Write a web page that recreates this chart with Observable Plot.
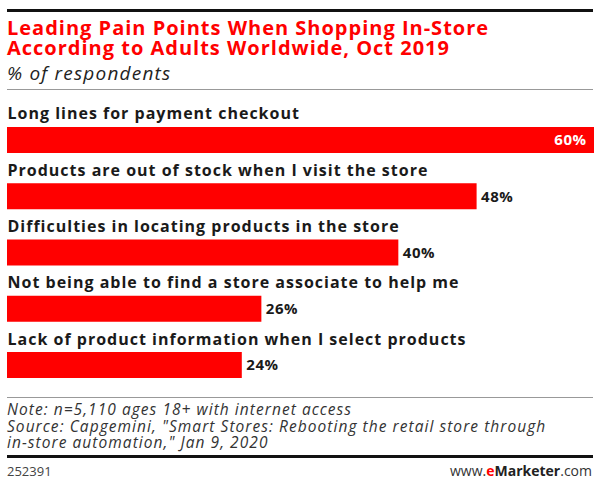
<!DOCTYPE html>
<html>
<head>
<meta charset="utf-8">
<script src="https://cdn.jsdelivr.net/npm/d3@7"></script>
<script src="https://cdn.jsdelivr.net/npm/@observablehq/plot@0.6"></script>
<style>
  html, body { margin: 0; padding: 0; background: #fff; }
  #wrap { position: relative; width: 600px; height: 484px; font-family: "Open Sans", sans-serif; overflow: hidden; }
  .abs { position: absolute; }
  #topline { left: 7px; top: 9px; width: 586px; height: 3px; background: #111; }
  #title { left: 7px; top: 18px; font-size: 20px; line-height: 20px; font-weight: 700; color: #f00; letter-spacing: 1px; white-space: nowrap; }
  #subtitle { left: 7px; top: 63px; font-size: 19px; line-height: 20px; font-style: italic; color: #222; letter-spacing: 1.2px; white-space: nowrap; }
  #gray1 { left: 7px; top: 89px; width: 586px; height: 1px; background: #999; }
  #chart { left: 0; top: 92px; }
  #chart g.lbl text { letter-spacing: 1px; }
  #chart g.val text { letter-spacing: 0.5px; }
  #gray2 { left: 7px; top: 397px; width: 586px; height: 1px; background: #999; }
  #notes { left: 7px; top: 401px; font-size: 15.5px; line-height: 16.5px; font-style: italic; color: #333; letter-spacing: 1.05px; white-space: nowrap; }
  #botline { left: 7px; top: 455px; width: 586px; height: 3px; background: #111; }
  #id { left: 7px; top: 462px; font-size: 13px; line-height: 18px; color: #444; }
  #brand { right: 8px; top: 462px; font-size: 14px; line-height: 18px; color: #333; }
  #brand b { color: #222; }
  #brand .e { color: #f00; }
</style>
</head>
<body>
<div id="wrap">
  <div id="topline" class="abs"></div>
  <div id="title" class="abs">Leading Pain Points When Shopping In-Store<br>According to Adults Worldwide, Oct 2019</div>
  <div id="subtitle" class="abs">% of respondents</div>
  <div id="gray1" class="abs"></div>
  <div id="chart" class="abs"></div>
  <div id="gray2" class="abs"></div>
  <div id="notes" class="abs">Note: n=5,110 ages 18+ with internet access<br>Source: Capgemini, "Smart Stores: Rebooting the retail store through<br>in-store automation," Jan 9, 2020</div>
  <div id="botline" class="abs"></div>
  <div id="id" class="abs">252391</div>
  <div id="brand" class="abs">www.<b><span class="e">e</span>Marketer</b>.com</div>
</div>
<script>
const categories = [
  "Long lines for payment checkout",
  "Products are out of stock when I visit the store",
  "Difficulties in locating products in the store",
  "Not being able to find a store associate to help me",
  "Lack of product information when I select products"
];
const values = [60, 48, 40, 26, 24];

const data = categories.map((c, i) => ({cat: c, value: values[i]}));
const maxVal = d3.max(values);

const chart = Plot.plot({
  width: 600,
  height: 300,
  marginTop: 0, marginRight: 0, marginBottom: 0, marginLeft: 0,
  style: {fontFamily: "'Open Sans', sans-serif", background: "transparent"},
  x: {domain: [0, 60], range: [7, 594], axis: null},
  y: {domain: categories, range: [35, 286], paddingInner: 0.5378, paddingOuter: 0, round: false, axis: null},
  marks: [
    Plot.barX(data, {x: "value", y: "cat", fill: "#ff0000"}),
    Plot.text(data, {x: 0, y: "cat", text: "cat", textAnchor: "start", lineAnchor: "bottom", dy: -21,
      fontSize: 16, fontWeight: 700, fill: "#1a1a1a", className: "lbl"}),
    Plot.text(data.filter(d => d.value < maxVal), {x: "value", y: "cat", text: d => d.value + "%",
      textAnchor: "start", dx: 4, fontSize: 15, fontWeight: 700, fill: "#1a1a1a", className: "val"}),
    Plot.text(data.filter(d => d.value === maxVal), {x: "value", y: "cat", text: d => d.value + "%",
      textAnchor: "end", dx: -8, fontSize: 15, fontWeight: 700, fill: "#fff", className: "val"})
  ]
});
document.getElementById("chart").appendChild(chart);
</script>
</body>
</html>
